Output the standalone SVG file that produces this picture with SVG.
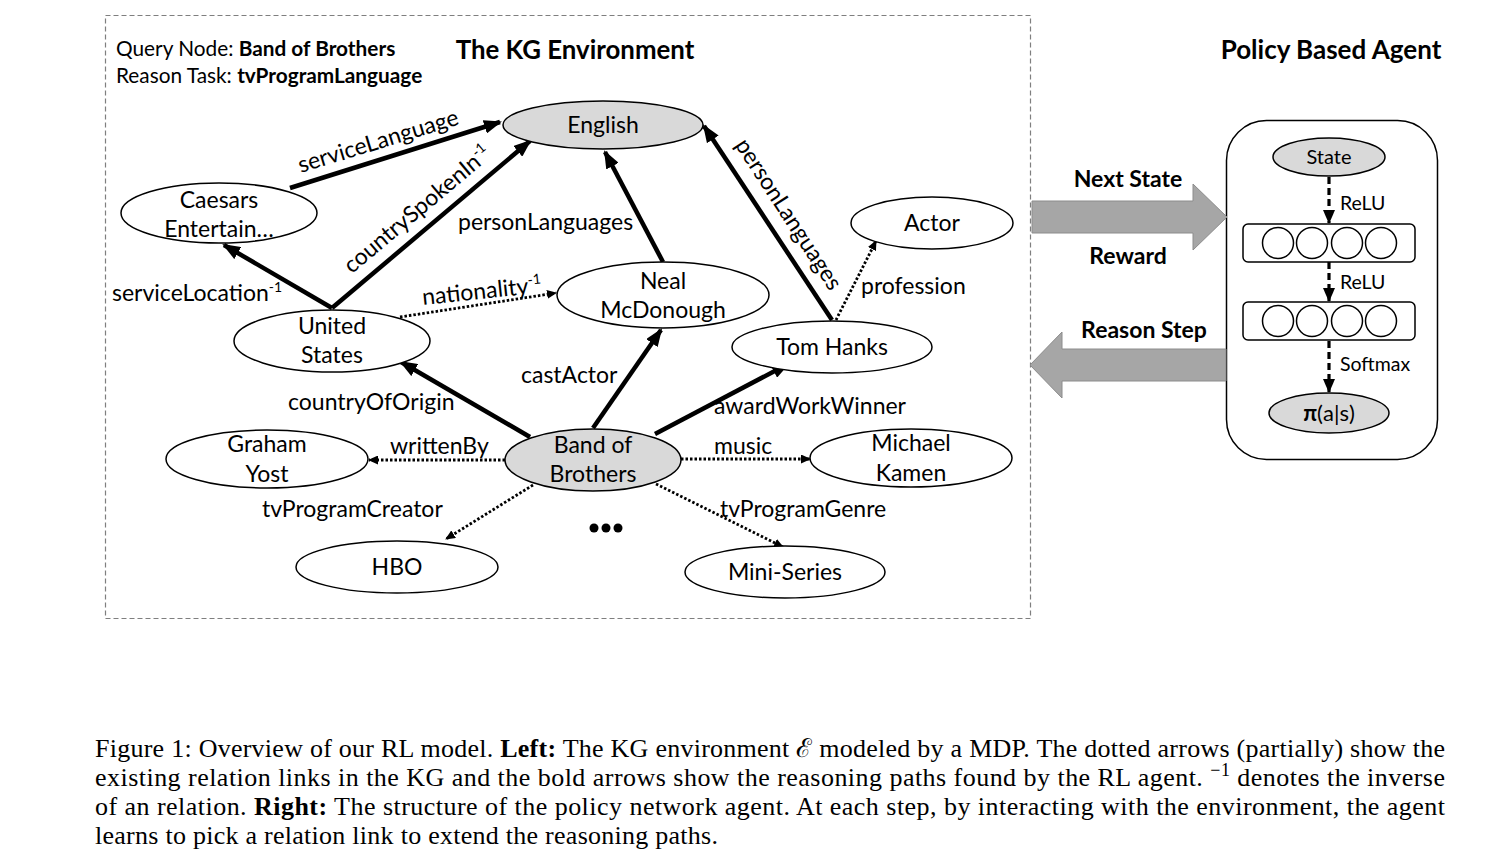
<svg xmlns="http://www.w3.org/2000/svg" width="1509" height="852" viewBox="0 0 1509 852">
<defs>
<style>
text{font-family:Lato,"Open Sans","Liberation Sans",sans-serif;fill:#000}
.n{font-size:23px;text-anchor:middle}
.l{font-size:23px}
.b{font-weight:bold}
.node{fill:#fff;stroke:#000;stroke-width:1.5}
.gray{fill:#d9d9d9;stroke:#000;stroke-width:1.5}
.bold{stroke:#000;stroke-width:4.5;fill:none;marker-end:url(#ah)}
.dot{stroke:#000;stroke-width:2.8;stroke-dasharray:2.5 2;fill:none;marker-end:url(#as)}
.dash{stroke:#000;stroke-width:3.2;stroke-dasharray:7 4;fill:none;marker-end:url(#ad)}
.big{fill:#a6a6a6;stroke:#8c8c8c;stroke-width:1}
.cap{font-family:"Liberation Serif","Times New Roman",serif;font-size:26px}
.sm{font-size:19.5px}
</style>
<marker id="ah" markerWidth="18" markerHeight="14" refX="16" refY="7" orient="auto" markerUnits="userSpaceOnUse"><path d="M0,0 L18,7 L0,14 z" fill="#000"/></marker>
<marker id="as" markerWidth="10" markerHeight="9" refX="9" refY="4.5" orient="auto" markerUnits="userSpaceOnUse"><path d="M0,0 L10,4.5 L0,9 z" fill="#000"/></marker>
<marker id="ad" markerWidth="14" markerHeight="12" refX="13" refY="6" orient="auto" markerUnits="userSpaceOnUse"><path d="M0,0 L14,6 L0,12 z" fill="#000"/></marker>
</defs>
<rect width="1509" height="852" fill="#fff"/>

<!-- environment frame -->
<rect x="105.5" y="15.5" width="925" height="603" fill="none" stroke="#7f7f7f" stroke-width="1.2" stroke-dasharray="5 3"/>
<text x="116" y="56" style="font-size:20.8px">Query Node: <tspan class="b">Band of Brothers</tspan></text>
<text x="116" y="83" style="font-size:20.8px">Reason Task: <tspan class="b">tvProgramLanguage</tspan></text>
<text x="575" y="59" class="b" style="font-size:25.8px;text-anchor:middle">The KG Environment</text>
<text x="1331" y="59" class="b" style="font-size:26px;text-anchor:middle">Policy Based Agent</text>

<!-- policy agent container -->
<g id="agent"><rect x="1226.5" y="120.5" width="211" height="339" rx="40" fill="#fff" stroke="#000" stroke-width="1.5"/></g>

<!-- connectors -->
<g id="connectors">
<line class="bold" x1="290" y1="188" x2="500" y2="122"/>
<line class="bold" x1="332" y1="308" x2="530" y2="141"/>
<line class="bold" x1="332" y1="308" x2="224" y2="245"/>
<line class="bold" x1="663" y1="262" x2="605" y2="152"/>
<line class="bold" x1="832" y1="320" x2="704" y2="126"/>
<line class="bold" x1="530" y1="437" x2="401" y2="362"/>
<line class="bold" x1="593" y1="428" x2="661" y2="330"/>
<line class="bold" x1="655" y1="434" x2="788" y2="364"/>
<line class="dot" x1="400" y1="317" x2="556" y2="293"/>
<line class="dot" x1="836" y1="320" x2="876" y2="241"/>
<line class="dot" x1="505" y1="460" x2="369" y2="460"/>
<line class="dot" x1="681" y1="459" x2="810" y2="459"/>
<line class="dot" x1="533" y1="485" x2="446" y2="539"/>
<line class="dot" x1="656" y1="484" x2="783" y2="547"/>
<text class="l" transform="translate(378,141) rotate(-17)" text-anchor="middle" y="8">serviceLanguage</text>
<text class="l" transform="translate(417,209) rotate(-40)" text-anchor="middle" y="8">countrySpokenIn<tspan dy="-9" style="font-size:14px">-1</tspan></text>
<text class="l" x="112" y="301">serviceLocation<tspan dy="-9" style="font-size:14px">-1</tspan></text>
<text class="l" x="458" y="230">personLanguages</text>
<text class="l" transform="translate(789,214) rotate(57)" text-anchor="middle" y="8">personLanguages</text>
<text class="l" transform="translate(423,305) rotate(-6)">nationality<tspan dy="-9" style="font-size:14px">-1</tspan></text>
<text class="l" x="861" y="294">profession</text>
<text class="l" x="288" y="410">countryOfOrigin</text>
<text class="l" x="521" y="383">castActor</text>
<text class="l" x="714" y="414">awardWorkWinner</text>
<text class="l" x="390" y="454">writtenBy</text>
<text class="l" x="714" y="454">music</text>
<text class="l" x="262" y="517">tvProgramCreator</text>
<text class="l" x="720" y="517">tvProgramGenre</text>
<g id="arrow-next"><polygon class="big" points="1032,201 1193,201 1193,184 1227,217 1193,250 1193,233 1032,233"/></g>
<g id="arrow-reason"><polygon class="big" points="1226,349 1062,349 1062,332 1030,365 1062,398 1062,381 1226,381"/></g>
<text x="1128" y="187" class="b" style="font-size:23px;text-anchor:middle">Next State</text>
<text x="1128" y="264" class="b" style="font-size:23px;text-anchor:middle">Reward</text>
<text x="1144" y="338" class="b" style="font-size:23px;text-anchor:middle">Reason Step</text>
<line class="dash" x1="1329" y1="177" x2="1329" y2="223"/>
<line class="dash" x1="1329" y1="262" x2="1329" y2="301"/>
<line class="dash" x1="1329" y1="341" x2="1329" y2="392"/>
<text x="1340" y="210" class="sm">ReLU</text>
<text x="1340" y="289" class="sm">ReLU</text>
<text x="1340" y="371" class="sm">Softmax</text>
</g>

<!-- KG nodes -->
<g id="english"><ellipse class="gray" cx="603" cy="125" rx="100" ry="24"/><text class="n" x="603" y="133">English</text></g>
<g id="caesars"><ellipse class="node" cx="219" cy="213" rx="98" ry="30"/><text class="n" x="219" y="208">Caesars</text><text class="n" x="219" y="237">Entertain…</text></g>
<g id="actor"><ellipse class="node" cx="932" cy="223" rx="81" ry="26"/><text class="n" x="932" y="231">Actor</text></g>
<g id="neal"><ellipse class="node" cx="663" cy="295" rx="106" ry="33"/><text class="n" x="663" y="289">Neal</text><text class="n" x="663" y="318">McDonough</text></g>
<g id="us"><ellipse class="node" cx="332" cy="341" rx="98" ry="31"/><text class="n" x="332" y="334">United</text><text class="n" x="332" y="363">States</text></g>
<g id="tomhanks"><ellipse class="node" cx="832" cy="347" rx="100" ry="26"/><text class="n" x="832" y="355">Tom Hanks</text></g>
<g id="bob"><ellipse class="gray" cx="593" cy="460" rx="88" ry="31"/><text class="n" x="593" y="453">Band of</text><text class="n" x="593" y="482">Brothers</text></g>
<g id="graham"><ellipse class="node" cx="267" cy="459" rx="101" ry="29"/><text class="n" x="267" y="452">Graham</text><text class="n" x="267" y="482">Yost</text></g>
<g id="michael"><ellipse class="node" cx="911" cy="458" rx="101" ry="29"/><text class="n" x="911" y="451">Michael</text><text class="n" x="911" y="481">Kamen</text></g>
<g id="hbo"><ellipse class="node" cx="397" cy="567" rx="101" ry="26"/><text class="n" x="397" y="575">HBO</text></g>
<g id="miniseries"><ellipse class="node" cx="785" cy="572" rx="100" ry="26"/><text class="n" x="785" y="580">Mini-Series</text></g>
<g id="ellipsis"><circle cx="594" cy="528" r="4.5"/><circle cx="606" cy="528" r="4.5"/><circle cx="618" cy="528" r="4.5"/></g>

<!-- policy network -->
<g id="state"><ellipse class="gray" cx="1329" cy="157" rx="56" ry="19"/><text x="1329" y="164" style="font-size:20px;text-anchor:middle">State</text></g>
<g id="layer1"><rect x="1243" y="224" width="172" height="38" rx="5" class="node"/>
<circle class="node" cx="1278" cy="243" r="15.5"/><circle class="node" cx="1312" cy="243" r="15.5"/><circle class="node" cx="1347" cy="243" r="15.5"/><circle class="node" cx="1381" cy="243" r="15.5"/></g>
<g id="layer2"><rect x="1243" y="302" width="172" height="38" rx="5" class="node"/>
<circle class="node" cx="1278" cy="321" r="15.5"/><circle class="node" cx="1312" cy="321" r="15.5"/><circle class="node" cx="1347" cy="321" r="15.5"/><circle class="node" cx="1381" cy="321" r="15.5"/></g>
<g id="policy"><ellipse class="gray" cx="1329" cy="413" rx="60" ry="20"/><text x="1329" y="421" style="font-size:22px;text-anchor:middle"><tspan class="b">π</tspan>(a|s)</text></g>

<!-- caption -->
<text class="cap" x="95" y="757" textLength="1350" lengthAdjust="spacing">Figure 1: Overview of our RL model. <tspan class="b">Left:</tspan> The KG environment ℰ modeled by a MDP. The dotted arrows (partially) show the</text>
<text class="cap" x="95" y="786" textLength="1350" lengthAdjust="spacing">existing relation links in the KG and the bold arrows show the reasoning paths found by the RL agent. <tspan dy="-10" style="font-size:18px">−1</tspan><tspan dy="10"> denotes the inverse</tspan></text>
<text class="cap" x="95" y="815" textLength="1350" lengthAdjust="spacing">of an relation. <tspan class="b">Right:</tspan> The structure of the policy network agent. At each step, by interacting with the environment, the agent</text>
<text class="cap" x="95" y="844" textLength="623" lengthAdjust="spacing">learns to pick a relation link to extend the reasoning paths.</text>
</svg>
